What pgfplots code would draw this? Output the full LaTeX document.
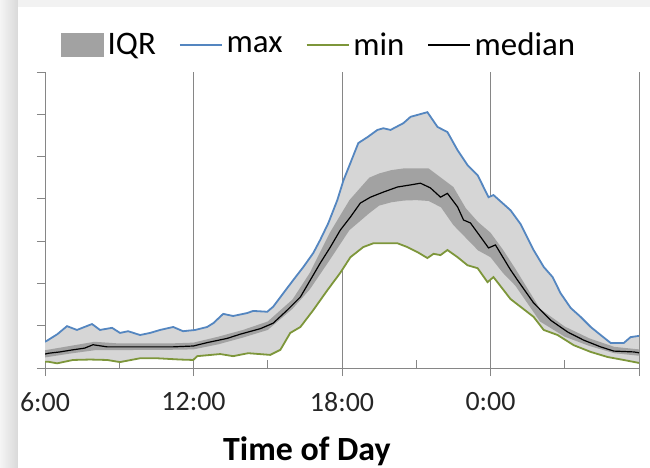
\documentclass[border=0pt]{standalone}
\usepackage{pgfplots}
\pgfplotsset{compat=1.18}
\usepgfplotslibrary{fillbetween}
\usepackage{fontspec}
\setmainfont{Carlito}

\definecolor{maxblue}{RGB}{84,134,192}
\definecolor{mingreen}{RGB}{125,150,58}
\definecolor{bandlight}{RGB}{214,214,214}
\definecolor{banddark}{RGB}{162,162,162}
\definecolor{axisgray}{RGB}{134,134,134}

\begin{document}
\begin{tikzpicture}
\shade[left color=gray!8, right color=gray!30] (-45bp,-100bp) rectangle (-27bp,368bp);
\fill[gray!10] (-27bp,361bp) rectangle (605bp,368bp);
\begin{axis}[
    at={(0,0)}, anchor=south west,
    scale only axis, width=594bp, height=296bp,
    xmin=6, xmax=30, ymin=0, ymax=7,
    axis x line=bottom, axis y line=left,
    x axis line style={-, axisgray},
    y axis line style={-, axisgray},
    xtick={6,12,18,24,30},
    xticklabels={6:00,12:00,18:00,0:00,{}},
    ytick={0,1,2,3,4,5,6,7},
    yticklabels={},
    tick align=outside,
    major tick length=8bp,
    tick style={axisgray, line width=0.8bp},
    extra x ticks={9,15,21,27},
    extra x tick labels={},
    extra x tick style={grid=none, tick align=inside},
    xmajorgrids,
    grid style={axisgray, line width=0.8bp},
    ticklabel style={font=\fontsize{28}{30}\selectfont, text=black!85},
    xticklabel style={yshift=-13bp},
    xlabel={\bfseries Time of Day},
    xlabel style={at={(axis description cs:0.441,-0.312)}, anchor=base,
        font=\fontsize{34}{36}\selectfont},
    legend columns=4,
    legend style={draw=none, fill=none, at={(0.027,1.091)}, anchor=west,
        font=\fontsize{33}{36}\selectfont, inner xsep=0pt,
        nodes={inner xsep=4bp},
        /tikz/every even column/.append style={column sep=19bp}},
]
\addlegendimage{legend image code/.code={\fill[banddark] (0bp,-11.5bp) rectangle (42bp,11.5bp);}}
\addlegendentry{IQR}
\addlegendimage{legend image code/.code={\draw[maxblue, line width=1.8bp] (0bp,0bp) -- (42bp,0bp);}}
\addlegendentry{max}
\addlegendimage{legend image code/.code={\draw[mingreen, line width=1.8bp] (0bp,0bp) -- (42bp,0bp);}}
\addlegendentry{min}
\addlegendimage{legend image code/.code={\draw[black, line width=1.2bp] (0bp,0bp) -- (42bp,0bp);}}
\addlegendentry{median}

% max
\addplot[name path=max, maxblue, line width=1.8bp, forget plot] coordinates {
(6.0,0.62) (6.12,0.66) (6.5,0.80) (6.89,0.99) (7.29,0.90) (7.9,1.04) (8.22,0.90)
(8.71,0.95) (9.03,0.83) (9.36,0.87) (9.84,0.78) (10.25,0.83) (10.65,0.90)
(11.18,0.97) (11.58,0.87) (12.07,0.90) (12.55,0.97) (12.8,1.06) (13.2,1.28)
(13.6,1.23) (14.17,1.30) (14.41,1.35) (14.98,1.33) (15.22,1.45) (15.63,1.77)
(16.03,2.08) (16.44,2.39) (16.84,2.72) (17.12,3.03) (17.45,3.43) (17.81,3.97)
(18.06,4.44) (18.34,4.85) (18.66,5.32) (19.03,5.46) (19.43,5.63) (19.67,5.67)
(19.96,5.63) (20.48,5.79) (20.77,5.94) (21.45,6.05) (21.86,5.70) (22.26,5.58)
(22.67,5.15) (23.07,4.80) (23.48,4.56) (23.92,4.04) (24.12,4.09) (24.81,3.73)
(25.22,3.40) (25.74,2.79) (26.15,2.39) (26.51,2.15) (26.83,1.77) (27.24,1.42)
(27.64,1.21) (28.05,0.97) (28.45,0.78) (28.86,0.59) (29.38,0.59) (29.66,0.73)
(30.0,0.76)
};
% min
\addplot[name path=min, mingreen, line width=1.8bp, forget plot] coordinates {
(6.0,0.15) (6.12,0.15) (6.49,0.11) (7.13,0.19) (7.82,0.20) (8.51,0.19) (9.03,0.14)
(9.84,0.23) (10.53,0.23) (11.46,0.20) (11.99,0.19) (12.15,0.28) (13.08,0.33)
(13.6,0.28) (14.21,0.35) (15.1,0.31) (15.51,0.43) (15.91,0.83) (16.32,0.97)
(16.84,1.37) (17.41,1.84) (17.93,2.25) (18.34,2.62) (18.86,2.86) (19.27,2.95)
(19.67,2.95) (20.24,2.95) (20.64,2.86) (21.05,2.74) (21.45,2.60) (21.7,2.70)
(21.98,2.67) (22.26,2.79) (22.67,2.62) (23.07,2.43) (23.48,2.36) (23.88,2.03)
(24.12,2.15) (24.81,1.63) (25.74,1.21) (26.15,0.90) (26.71,0.78) (27.36,0.54)
(28.05,0.38) (28.73,0.26) (29.38,0.19) (30.0,0.12)
};
% upper quartile
\addplot[name path=q3, draw=none, forget plot] coordinates {
(6,0.42) (7,0.52) (8,0.62) (9,0.58) (10,0.58) (11,0.58) (12,0.60) (13,0.74)
(14,0.90) (15,1.10) (16,1.62) (16.7,2.25) (17.5,3.19) (18.3,3.97) (19.1,4.50)
(19.5,4.60) (20,4.68) (20.5,4.72) (21,4.72) (21.5,4.72) (22,4.50) (22.5,4.28)
(23,3.78) (23.5,3.45) (24,3.20) (24.5,2.80) (25,2.35) (26,1.40) (27,0.98)
(28,0.70) (29,0.50) (30,0.44)
};
% lower quartile
\addplot[name path=q1, draw=none, forget plot] coordinates {
(6,0.25) (7,0.34) (8,0.42) (9,0.42) (10,0.43) (11,0.43) (12,0.44) (13,0.56)
(14,0.72) (15,0.90) (16,1.40) (16.7,1.86) (17.5,2.55) (18.3,3.26) (19.1,3.66)
(19.5,3.84) (20,3.92) (20.5,3.96) (21,3.97) (21.5,3.95) (22,3.80) (22.5,3.38)
(23,3.08) (23.5,2.78) (24,2.62) (24.5,2.25) (25,1.95) (26,1.10) (27,0.74)
(28,0.52) (29,0.35) (30,0.29)
};
\addplot[bandlight, forget plot] fill between[of=max and min];
\addplot[banddark, forget plot] fill between[of=q3 and q1];
% median
\addplot[black, line width=1.2bp, forget plot] coordinates {
(6.0,0.33) (6.16,0.35) (6.6,0.38) (7.13,0.43) (7.6,0.47) (7.94,0.55) (8.51,0.50)
(9.84,0.50) (11.18,0.50) (11.99,0.52) (12.55,0.60) (13.36,0.70) (13.89,0.80)
(14.7,0.93) (15.22,1.06) (15.79,1.37) (16.32,1.68) (16.72,2.08) (17.12,2.48)
(17.53,2.86) (17.93,3.26) (18.34,3.57) (18.74,3.90) (19.15,4.04) (19.67,4.16)
(20.24,4.28) (20.77,4.33) (21.17,4.37) (21.57,4.26) (21.98,4.04) (22.26,4.13)
(22.67,3.81) (22.91,3.50) (23.19,3.43) (23.6,3.10) (23.92,2.84) (24.2,2.91)
(24.81,2.32) (25.09,2.08) (25.74,1.54) (26.43,1.13) (27.12,0.85) (27.76,0.66)
(28.45,0.50) (28.98,0.40) (29.79,0.38) (30.0,0.36)
};
\end{axis}
\pgfresetboundingbox
\path[use as bounding box] (-45bp,-100bp) rectangle (605bp,368bp);
\end{tikzpicture}
\end{document}
